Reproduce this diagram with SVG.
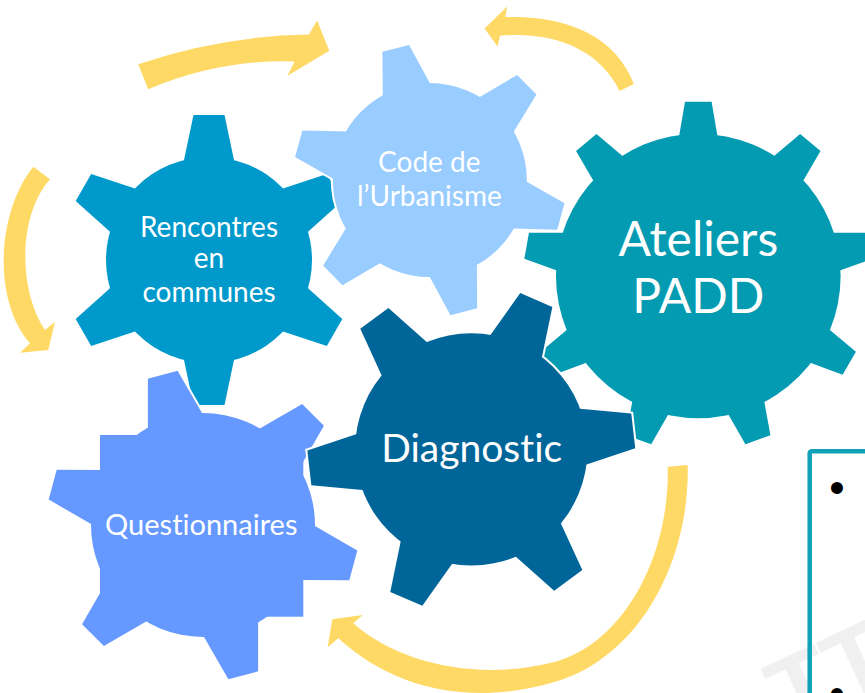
<svg xmlns="http://www.w3.org/2000/svg" width="865" height="693" viewBox="0 0 865 693">
<style>
.lbl{font-family:Lato,"Liberation Sans",sans-serif;fill:#ffffff;text-anchor:middle;font-variant-ligatures:none;font-feature-settings:"liga" 0,"dlig" 0,"clig" 0}
.arrow{fill:#FFD966}
.wm{font-family:"Liberation Sans",Arial,sans-serif;font-weight:bold;fill:#F0F0F0}
.bul{font-family:"Liberation Sans",Arial,sans-serif;fill:#000000;text-anchor:middle}
</style>
<defs>
  <path id="tR" d="M-15.5,-145 L15.5,-145 L25,-99.9 L25,-85 L-25,-85 L-25,-99.9 Z"/>
  <g id="shapeR"><circle r="103"/><use href="#tR"/><use href="#tR" transform="rotate(60)"/><use href="#tR" transform="rotate(120)"/><use href="#tR" transform="rotate(180)"/><use href="#tR" transform="rotate(240)"/><use href="#tR" transform="rotate(300)"/></g>
  <path id="tC" d="M-13.75,-136 L13.75,-136 L24.3,-93.9 L24.3,-80 L-24.3,-80 L-24.3,-93.9 Z"/>
  <g id="shapeC"><circle r="97"/><use href="#tC" transform="rotate(45.5)"/><use href="#tC" transform="rotate(105.5)"/><use href="#tC" transform="rotate(165.5)"/><use href="#tC" transform="rotate(225.5)"/><use href="#tC" transform="rotate(285.5)"/><use href="#tC" transform="rotate(345.5)"/></g>
  <path id="tA" d="M-13.3,-174.3 L13.3,-174.3 L19,-141 L19,-125 L-19,-125 L-19,-141 Z"/>
  <g id="shapeA"><circle r="142.3"/><use href="#tA"/><use href="#tA" transform="rotate(40)"/><use href="#tA" transform="rotate(80)"/><use href="#tA" transform="rotate(120)"/><use href="#tA" transform="rotate(160)"/><use href="#tA" transform="rotate(200)"/><use href="#tA" transform="rotate(240)"/><use href="#tA" transform="rotate(280)"/><use href="#tA" transform="rotate(320)"/></g>
  <path id="tD" d="M-17.5,-163 L17.5,-163 L28,-112.8 L28,-98 L-28,-98 L-28,-112.8 Z"/>
  <g id="shapeD"><circle r="116.2"/><use href="#tD" transform="rotate(23.5)"/><use href="#tD" transform="rotate(83.5)"/><use href="#tD" transform="rotate(143.5)"/><use href="#tD" transform="rotate(203.5)"/><use href="#tD" transform="rotate(263.5)"/><use href="#tD" transform="rotate(323.5)"/></g>
  <path id="tQ" d="M-15.4,-155.6 L15.4,-155.6 L28,-108.4 L28,-95 L-28,-95 L-28,-108.4 Z"/>
  <g id="shapeQ"><circle r="112"/><rect x="-103" y="-90" width="203.3" height="181.7"/><use href="#tQ" transform="rotate(-15)"/><use href="#tQ" transform="rotate(45)"/><use href="#tQ" transform="rotate(105)"/><use href="#tQ" transform="rotate(165)"/><use href="#tQ" transform="rotate(225)"/><use href="#tQ" transform="rotate(285)"/></g>
</defs>

<rect width="865" height="693" fill="#ffffff"/>

<text class="wm" font-size="100" transform="translate(788.7,731.4) rotate(-25)">TT</text>

<g id="connectors">
  <path class="arrow" d="M138.2,64.3 Q220,36 308.9,34.6 L317.1,20.4 L329.3,50.7 L287.5,75.7 L294.6,61.4 Q220,59 148.2,89.3 Z"/>
  <path class="arrow" d="M633.9,83.9 C615,35 565,15 505.4,17.1 L507.1,6.4 L484.6,28.6 L497.5,46.4 L500,35.7 C555,31 600,50 619.6,91.1 Z"/>
  <path class="arrow" d="M33.3,166.7 C-3,212 -8,300 30,343.3 L20,352.7 L48.3,350 L55,321.7 L45,330 C18,290 18,215 50,179.3 Z"/>
  <path class="arrow" d="M687.7,465 C690,560 640,660 550,683.3 C470,705 395,690 338.3,638.3 L327.7,647.3 L332.3,619.3 L362.7,615 L353.3,623.3 C400,665 480,680 550,663 C620,648 670,560 667.7,466.7 Z"/>
</g>

<g id="ateliers">
  <use href="#shapeA" transform="translate(698.3,276)" fill="#ffffff" stroke="#ffffff" stroke-width="4"/>
  <use href="#shapeA" transform="translate(698.3,276)" fill="#039BB2"/>
  <text class="lbl" font-size="48" x="698.3" y="256">Ateliers</text>
  <text class="lbl" font-size="48" x="698.3" y="313.3">PADD</text>
</g>

<g id="rencontres">
  <use href="#shapeR" transform="translate(209,260)" fill="#ffffff" stroke="#ffffff" stroke-width="4"/>
  <use href="#shapeR" transform="translate(209,260)" fill="#0099CC"/>
  <text class="lbl" font-size="28" x="209" y="236.7">Rencontres</text>
  <text class="lbl" font-size="28" x="209" y="268.3">en</text>
  <text class="lbl" font-size="28" x="209" y="301.7">communes</text>
</g>

<g id="code">
  <use href="#shapeC" transform="translate(429.8,180.1)" fill="#ffffff" stroke="#ffffff" stroke-width="4"/>
  <use href="#shapeC" transform="translate(429.8,180.1)" fill="#99CCFF"/>
  <text class="lbl" font-size="28" x="429.3" y="171.7">Code de</text>
  <text class="lbl" font-size="28" x="429.3" y="205.7">l’Urbanisme</text>
</g>

<g id="questionnaires">
  <use href="#shapeQ" transform="translate(203,525)" fill="#ffffff" stroke="#ffffff" stroke-width="4"/>
  <use href="#shapeQ" transform="translate(203,525)" fill="#6699FF"/>
  <text class="lbl" font-size="29" x="201.3" y="535">Questionnaires</text>
</g>

<g id="diagnostic">
  <use href="#shapeD" transform="translate(471.3,449.4)" fill="#ffffff" stroke="#ffffff" stroke-width="4"/>
  <use href="#shapeD" transform="translate(471.3,449.4)" fill="#006699"/>
  <text class="lbl" font-size="39" x="471.7" y="461.7">Diagnostic</text>
</g>

<g id="textbox">
  <rect x="809.7" y="451.3" width="120" height="300" rx="2" fill="none" stroke="#10A2B8" stroke-width="4.5"/>
  <text class="bul" font-size="44" x="837" y="503">•</text>
  <text class="bul" font-size="44" x="837" y="709">•</text>
</g>
</svg>
